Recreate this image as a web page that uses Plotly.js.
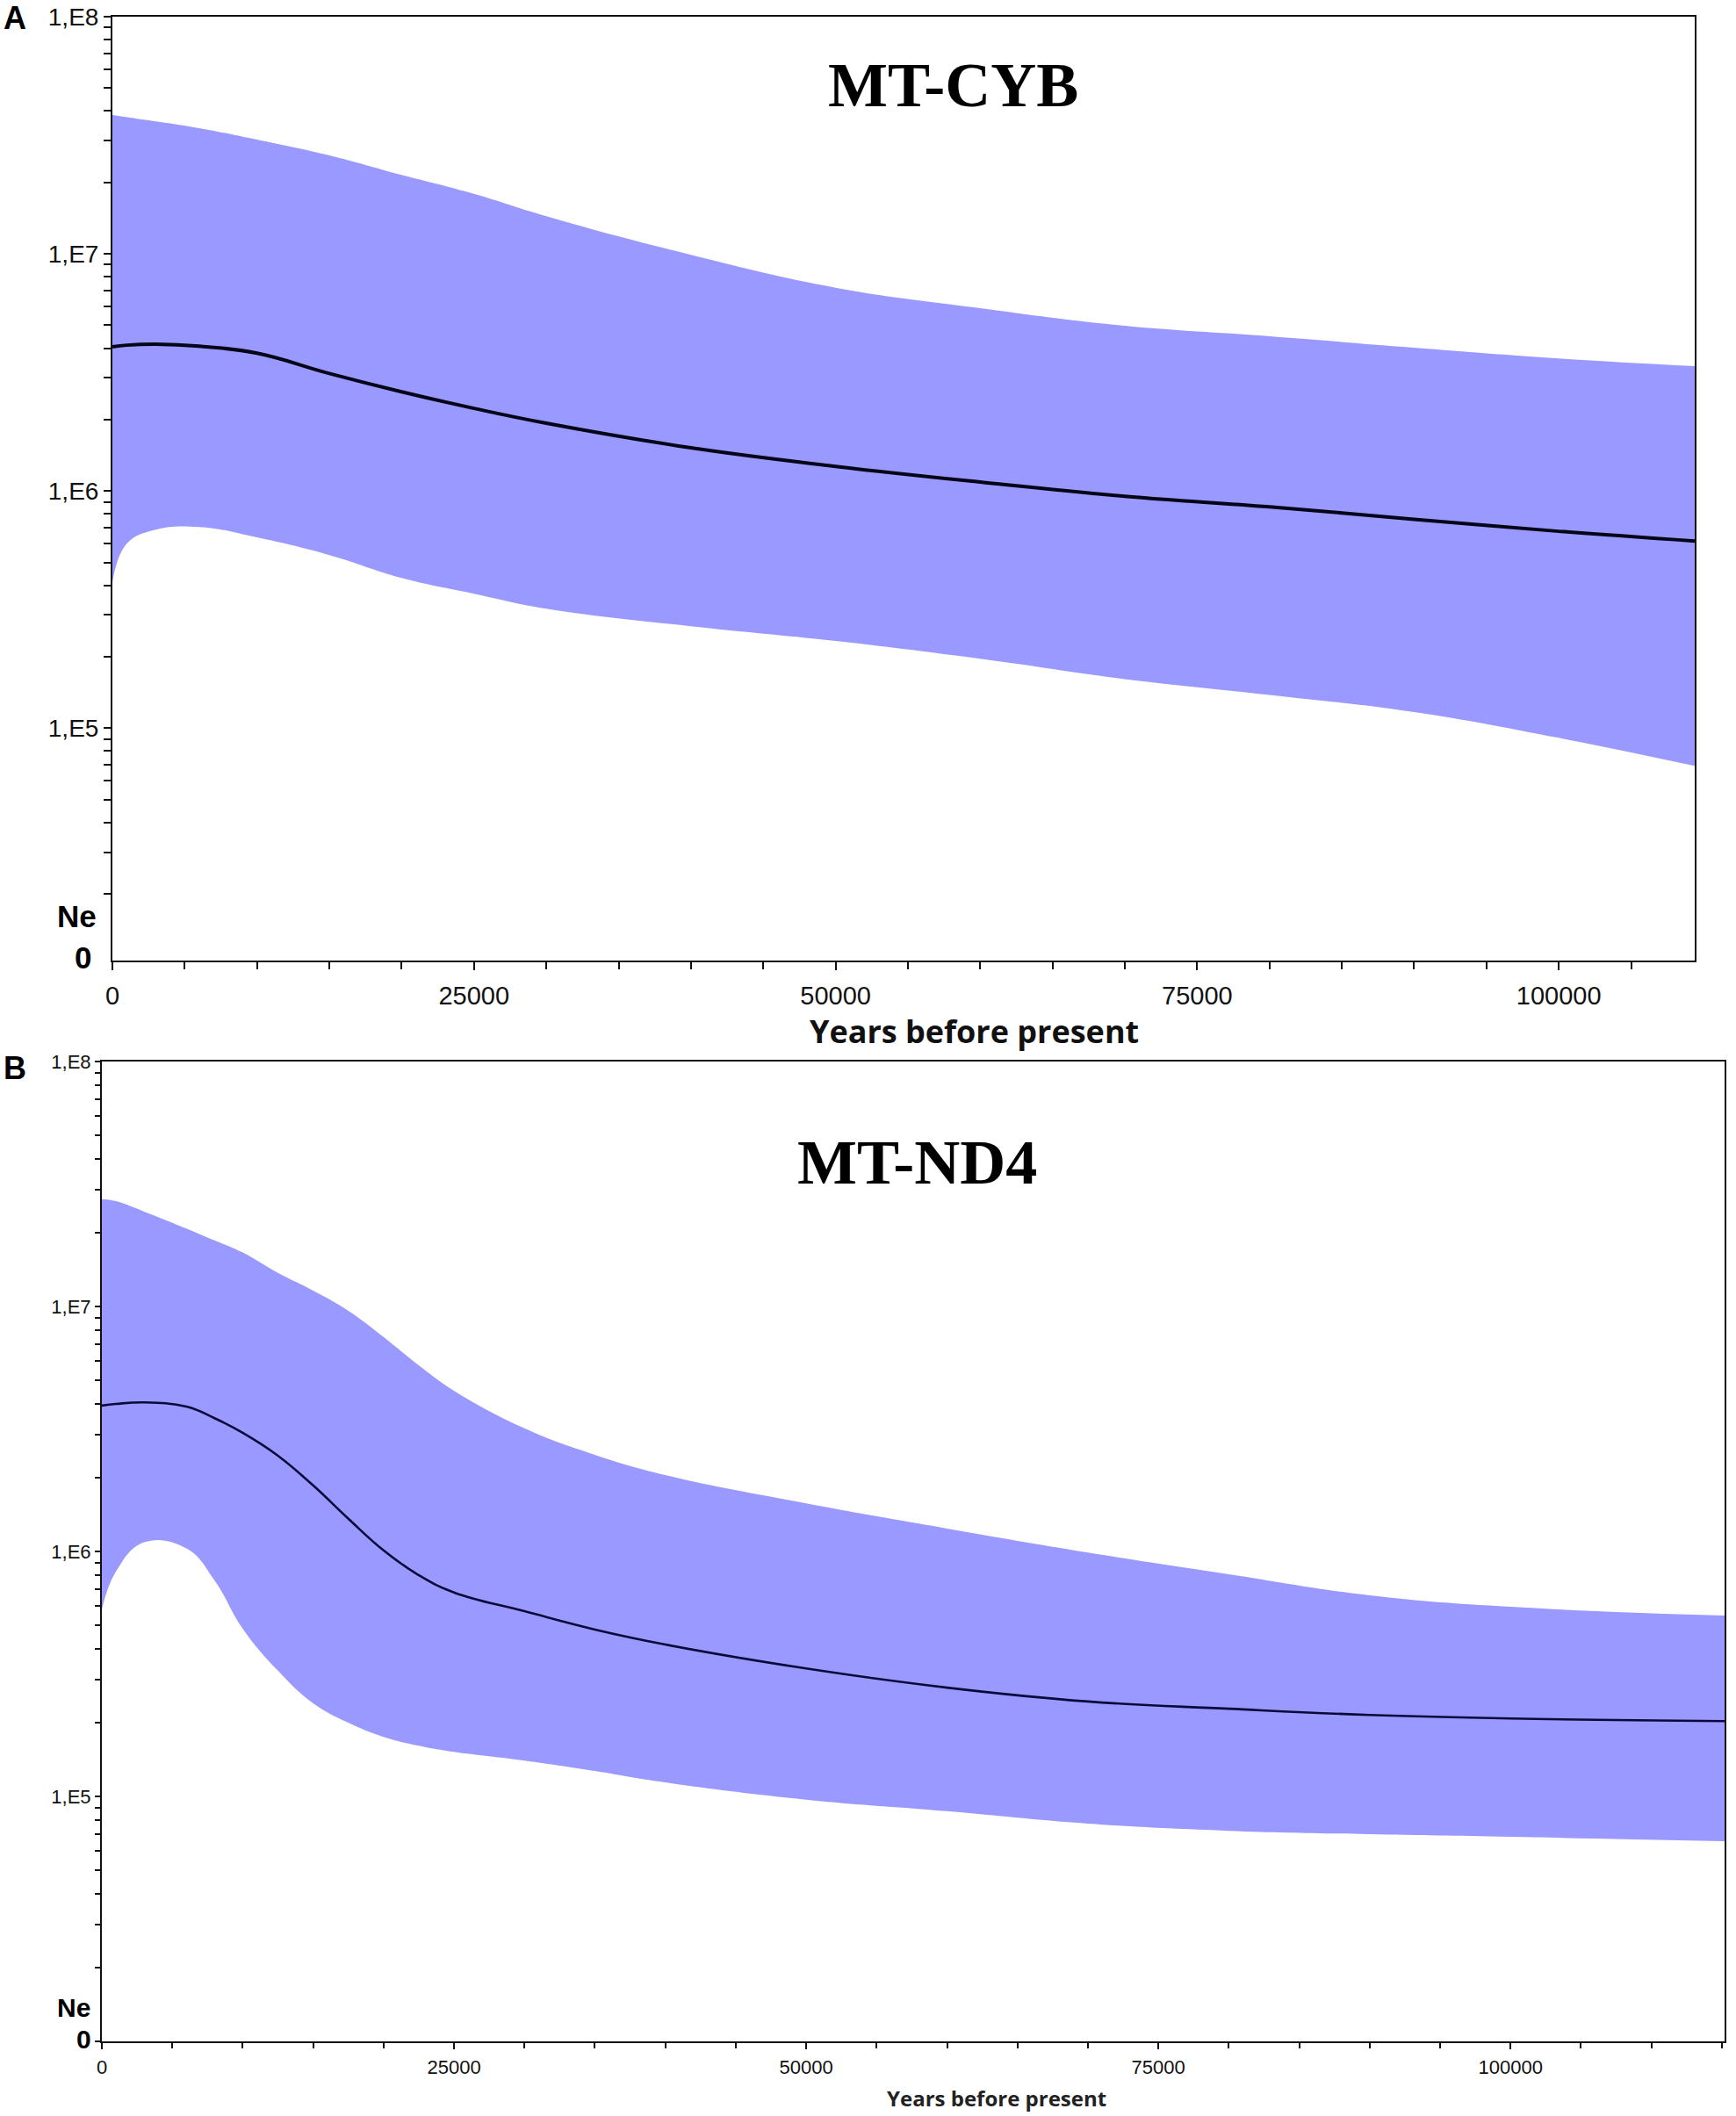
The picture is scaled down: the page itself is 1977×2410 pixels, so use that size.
<!DOCTYPE html>
<html>
<head>
<meta charset="utf-8">
<script src="https://cdn.plot.ly/plotly-3.0.1.min.js"></script>
<style>
  html, body { margin: 0; padding: 0; background: #fff; }
  #chart { width: 1977px; height: 2410px; }
</style>
</head>
<body>
<div id="chart"></div>
<script>
// Panel A: MT-CYB (years before present, Ne)
var yearsA = [0, 1000, 3000, 6000, 10000, 15000, 20000, 25000, 30000, 40000,
              50000, 60000, 70000, 80000, 90000, 100000, 109400];
var upperA = [3.85e7, 3.77e7, 3.62e7, 3.39e7, 3.03e7, 2.60e7, 2.15e7, 1.79e7, 1.44e7, 9.9e6,
              7.2e6, 5.9e6, 4.97e6, 4.49e6, 4.02e6, 3.62e6, 3.36e6];
var medianA = [4.05e6, 4.12e6, 4.16e6, 4.08e6, 3.81e6, 3.13e6, 2.62e6, 2.23e6, 1.93e6, 1.52e6,
               1.27e6, 1.09e6, 9.5e5, 8.57e5, 7.6e5, 6.76e5, 6.15e5];
var lowerA = [4.12e5, 6.0e5, 6.87e5, 7.05e5, 6.37e5, 5.37e5, 4.30e5, 3.69e5, 3.19e5, 2.69e5,
              2.33e5, 1.96e5, 1.61e5, 1.38e5, 1.17e5, 9.1e4, 6.93e4];

// Panel B: MT-ND4
var yearsB = [0, 1000, 3000, 6000, 8000, 10000, 12500, 15000, 17500, 20000, 22500,
              25000, 30000, 35000, 40000, 50000, 60000, 70000, 80000, 90000, 100000, 115200];
var upperB = [2.74e7, 2.69e7, 2.44e7, 2.08e7, 1.86e7, 1.66e7, 1.37e7, 1.16e7, 9.6e6, 7.5e6, 5.75e6,
              4.53e6, 3.18e6, 2.48e6, 2.05e6, 1.57e6, 1.24e6, 9.9e5, 8.07e5, 6.62e5, 5.94e5, 5.47e5];
var medianB = [3.94e6, 4.0e6, 4.06e6, 3.9e6, 3.5e6, 3.05e6, 2.46e6, 1.86e6, 1.36e6, 1.01e6, 8.0e5,
               6.8e5, 5.70e5, 4.80e5, 4.17e5, 3.33e5, 2.78e5, 2.44e5, 2.28e5, 2.15e5, 2.08e5, 2.03e5];
var lowerB = [5.79e5, 8.28e5, 1.09e6, 1.03e6, 7.62e5, 4.84e5, 3.26e5, 2.40e5, 2.0e5, 1.75e5, 1.61e5,
              1.52e5, 1.40e5, 1.27e5, 1.14e5, 9.7e4, 8.7e4, 7.74e4, 7.24e4, 7.01e4, 6.84e4, 6.56e4];

var decadeLabels = {1e8: '1,E8', 1e7: '1,E7', 1e6: '1,E6', 1e5: '1,E5'};
var W = 1977, H = 2410;

// log ticks: every 1..9 x 10^k, labels only on decades
var ytv = [], ytt = [];
for (var k = 4; k < 8; k++) {
  for (var m = 1; m < 10; m++) {
    var v = m * Math.pow(10, k);
    ytv.push(v);
    ytt.push(decadeLabels[v] || '');
  }
}
ytv.push(1e8); ytt.push('1,E8');

var fill = 'rgb(153,153,255)';

function band(x, lo, hi, med, xa, ya, lw, lc) {
  var sm = 1.2;
  return [
    {x: x, y: lo, xaxis: xa, yaxis: ya, mode: 'lines', line: {width: 0, shape: 'spline', smoothing: sm},
     hoverinfo: 'skip'},
    {x: x, y: hi, xaxis: xa, yaxis: ya, mode: 'lines', line: {width: 0, shape: 'spline', smoothing: sm},
     fill: 'tonexty', fillcolor: fill, hoverinfo: 'skip'},
    {x: x, y: med, xaxis: xa, yaxis: ya, mode: 'lines', line: {width: lw, color: lc, shape: 'spline', smoothing: sm}}
  ];
}

var traces = band(yearsA, lowerA, upperA, medianA, 'x', 'y', 4, '#050518')
  .concat(band(yearsB, lowerB, upperB, medianB, 'x2', 'y2', 2.6, '#0a0a3a'));

function px(x) { return x / W; }
function py(y) { return 1 - y / H; }

function xAxis(dom, anchor, rng, fs) {
  return {
    domain: dom, anchor: anchor, range: rng, showgrid: false, zeroline: false,
    showline: true, linecolor: '#111', linewidth: 2, mirror: true,
    ticks: 'outside', ticklen: 9, tickwidth: 2, tickcolor: '#111',
    tickmode: 'linear', tick0: 0, dtick: 25000, tickformat: 'd',
    minor: {ticks: 'outside', ticklen: 8, tickwidth: 2, tickcolor: '#111', dtick: 5000, showgrid: false},
    tickfont: {family: 'Liberation Sans, Arial, sans-serif', size: fs, color: '#111'},
    ticklabelstandoff: 4
  };
}
function yAxis(dom, anchor, rng, fs) {
  return {
    domain: dom, anchor: anchor, type: 'log', range: rng, showgrid: false, zeroline: false,
    showline: true, linecolor: '#111', linewidth: 2, mirror: true,
    ticks: 'outside', ticklen: 8, tickwidth: 2, tickcolor: '#111',
    tickmode: 'array', tickvals: ytv, ticktext: ytt,
    tickfont: {family: 'Liberation Sans, Arial, sans-serif', size: fs, color: '#111'}
  };
}

var sans = 'Liberation Sans, Arial, sans-serif';
var serif = 'Liberation Serif, Times New Roman, serif';

var ann = [
  {text: '<b>A</b>', x: px(2), y: py(21), xanchor: 'left', yanchor: 'middle', font: {family: sans, size: 36, color: '#000'}},
  {text: '<b>B</b>', x: px(2), y: py(1216), xanchor: 'left', yanchor: 'middle', font: {family: sans, size: 36, color: '#000'}},
  {text: '<b>MT-CYB</b>', x: px(1085), y: py(97), xanchor: 'center', yanchor: 'middle', font: {family: serif, size: 72, color: '#000'}},
  {text: '<b>MT-ND4</b>', x: px(1044), y: py(1324), xanchor: 'center', yanchor: 'middle', font: {family: serif, size: 72, color: '#000'}},
  {text: '<b>Ne</b>', x: px(112), y: py(1043), xanchor: 'right', yanchor: 'middle', font: {family: sans, size: 35, color: '#000'}},
  {text: '<b>0</b>', x: px(106), y: py(1091), xanchor: 'right', yanchor: 'middle', font: {family: sans, size: 35, color: '#000'}},
  {text: '<b>Ne</b>', x: px(105), y: py(2286), xanchor: 'right', yanchor: 'middle', font: {family: sans, size: 30, color: '#000'}},
  {text: '<b>0</b>', x: px(106), y: py(2322), xanchor: 'right', yanchor: 'middle', font: {family: sans, size: 30, color: '#000'}},
  {text: '<b>Years before present</b>', x: px(1109), y: py(1174), xanchor: 'center', yanchor: 'middle',
   font: {family: 'Open Sans, sans-serif', size: 36, color: '#111'}},
  {text: '<b>Years before present</b>', x: px(1135), y: py(2408), xanchor: 'center', yanchor: 'bottom',
   font: {family: 'Open Sans, sans-serif', size: 24, color: '#222'}}
];
ann.forEach(function (a) { a.xref = 'paper'; a.yref = 'paper'; a.showarrow = false; });

var layout = {
  width: W, height: H, margin: {l: 0, r: 0, t: 0, b: 0},
  paper_bgcolor: '#fff', plot_bgcolor: '#fff', showlegend: false,
  xaxis: xAxis([px(128), px(1930)], 'y', [0, 109400], 29),
  yaxis: yAxis([py(1094), py(19)], 'x', [4.02, 8], 28),
  xaxis2: xAxis([px(116), px(1964)], 'y2', [0, 115200], 22),
  yaxis2: yAxis([py(2325), py(1209)], 'x2', [4, 8], 22),
  annotations: ann
};
layout.xaxis2.ticklen = 7;
layout.xaxis2.minor.ticklen = 6;
layout.xaxis2.ticklabelstandoff = 2;
layout.yaxis2.ticklen = 6;

Plotly.newPlot('chart', traces, layout, {staticPlot: true});
</script>
</body>
</html>
